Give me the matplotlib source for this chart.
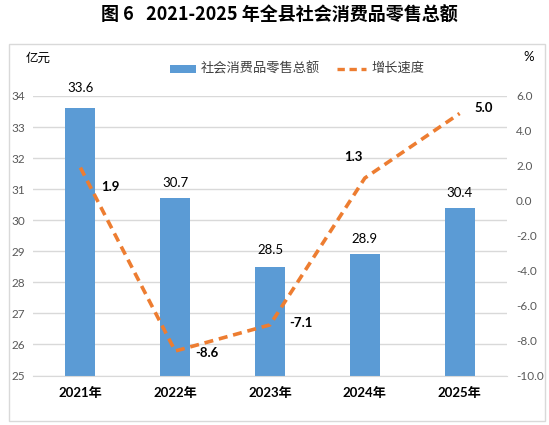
import matplotlib
matplotlib.use("Agg")
import matplotlib.pyplot as plt
from matplotlib.patches import Rectangle
from matplotlib.lines import Line2D

plt.rcParams['font.family'] = ['Noto Sans CJK SC', 'DejaVu Sans']

years = ["2021年", "2022年", "2023年", "2024年", "2025年"]
sales = [33.6, 30.7, 28.5, 28.9, 30.4]
growth = [1.9, -8.6, -7.1, 1.3, 5.0]
left_ticks = [25, 26, 27, 28, 29, 30, 31, 32, 33, 34]
right_ticks = [-10.0, -8.0, -6.0, -4.0, -2.0, 0.0, 2.0, 4.0, 6.0]

bar_color = "#5B9BD5"
line_color = "#ED7D31"
tick_color = "#595959"
num_font = ['Lato', 'Noto Sans CJK SC']

W, H = 549, 425
fig = plt.figure(figsize=(W / 100, H / 100), dpi=100)
fig.patch.set_facecolor("white")

def fx(px):
    return px / W

def fy(py):
    return 1 - py / H

# outer frame
fig.patches.append(Rectangle((fx(8.5), fy(420.5)), (545 - 8.5) / W, (420.5 - 44) / H,
                             transform=fig.transFigure, fill=False,
                             edgecolor="#D9D9D9", linewidth=1.0))

ax = fig.add_axes([fx(33), fy(375.5), (507 - 33) / W, (375.5 - 96) / H])
ax2 = ax.twinx()

x = list(range(len(years)))
ax.bar(x, sales, width=0.316, color=bar_color, zorder=2)
ax.set_ylim(25, 34)
ax.set_xlim(-0.5, 4.5)
ax.set_yticks(left_ticks)
ax.set_yticklabels([str(t) for t in left_ticks], color=tick_color,
                   fontsize=8.5, family=num_font)
ax.grid(axis='y', color="#D9D9D9", linewidth=1.0, zorder=0)
ax.set_axisbelow(True)
for s in ax.spines.values():
    s.set_visible(False)
ax.spines['bottom'].set_visible(True)
ax.spines['bottom'].set_color("#D9D9D9")
ax.tick_params(axis='both', length=0)
ax.set_xticks(x)
ax.set_xticklabels(years, fontsize=9.5, fontweight='bold', color="#000000",
                   family=num_font)
ax.tick_params(axis='x', pad=8)
ax.tick_params(axis='y', pad=5.8)

bar_label_offsets = [15, 11, 12, 11, 11]
for xi, v, off in zip(x, sales, bar_label_offsets):
    ax.annotate(f"{v:.1f}", (xi, v), xytext=(0, off), textcoords='offset points',
                ha='center', va='center', fontsize=9.5, color="#000000",
                family=num_font)

ax2.plot(x, growth, color=line_color, linewidth=2.6,
         linestyle=(0, (2.5, 1.6)), zorder=3)
ax2.set_ylim(-10, 6)
ax2.set_yticks(right_ticks)
ax2.set_yticklabels([f"{t:.1f}" for t in right_ticks], color=tick_color,
                    fontsize=8.5, family=num_font)
ax2.tick_params(axis='y', length=0, pad=6.5)
for s in ax2.spines.values():
    s.set_visible(False)

label_offsets = [(0.32, -1.1), (0.33, -0.1), (0.33, 0.1), (-0.12, 1.2), (0.25, 0.3)]
for xi, v, (dx, dy) in zip(x, growth, label_offsets):
    ax2.text(xi + dx, v + dy, f"{v:.1f}", ha='center', va='center',
             fontsize=9.5, fontweight='bold', color="#000000", family=num_font)

# axis unit labels
fig.text(fx(38), fy(58), "亿元", ha='center', va='center', fontsize=9, color="#000000")
fig.text(fx(528.5), fy(57), "%", ha='center', va='center', fontsize=9.5,
         color="#000000", family=num_font)

# legend
ly = fy(68.5)
fig.patches.append(Rectangle((fx(170), fy(72.5)), 26 / W, 8 / H,
                             transform=fig.transFigure, facecolor=bar_color,
                             edgecolor='none'))
fig.text(fx(201), ly, "社会消费品零售总额", ha='left', va='center', fontsize=9.5,
         color="#404040")
fig.lines.append(Line2D([fx(337), fx(366)], [ly, ly], transform=fig.transFigure,
                        color=line_color, linewidth=2.4, linestyle=(0, (2.2, 1.4))))
fig.text(fx(371), ly, "增长速度", ha='left', va='center', fontsize=9.5,
         color="#404040")

# title
fig.text(fx(279.5), fy(15), "图 6   2021-2025 年全县社会消费品零售总额",
         ha='center', va='center', fontsize=13, fontweight='bold', color="#000000")

fig.savefig("out.png", dpi=100, facecolor="white")
